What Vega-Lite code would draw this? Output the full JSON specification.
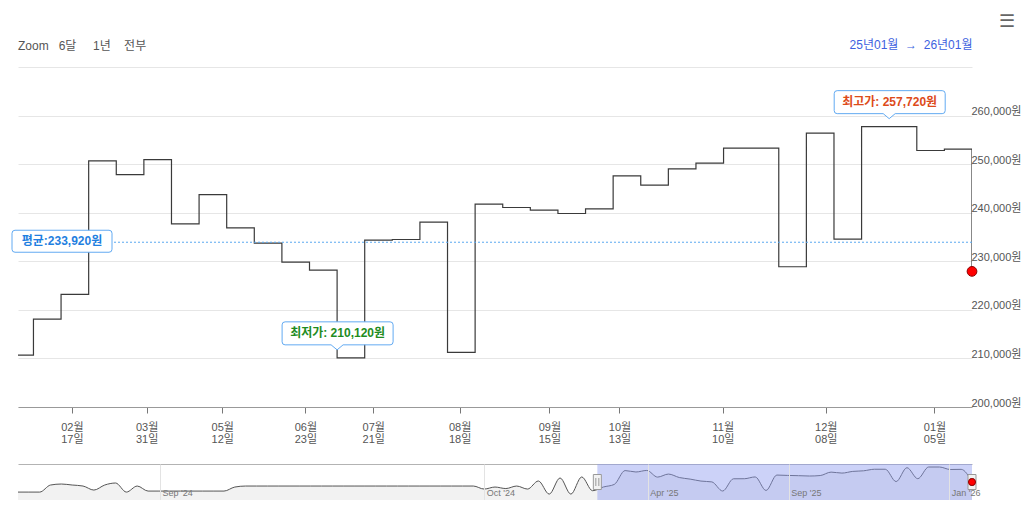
{
  "$schema": "https://vega.github.io/schema/vega-lite/v6.json",
  "background": "white",
  "padding": {"left": 10, "top": 13, "right": 0, "bottom": 0},
  "config": {
    "font": "Liberation Sans, 'Noto Sans CJK KR', sans-serif",
    "view": {"stroke": null}
  },
  "title": {"text": "☰", "anchor": "end", "fontSize": 18, "color": "#666666", "fontWeight": "normal", "offset": 7, "dx": -6},
  "bounds": "flush",
  "spacing": 57,
  "datasets": {
    "history": [
      {"n": 0, "price": 208000}, {"n": 1, "price": 208000}, {"n": 2, "price": 208000}, {"n": 3, "price": 222000},
      {"n": 4, "price": 224000}, {"n": 5, "price": 222000}, {"n": 6, "price": 220000}, {"n": 7, "price": 212000},
      {"n": 8, "price": 222000}, {"n": 9, "price": 226000}, {"n": 10, "price": 208000}, {"n": 11, "price": 220000},
      {"n": 12, "price": 210000}, {"n": 13, "price": 210000}, {"n": 14, "price": 210000}, {"n": 15, "price": 210000},
      {"n": 16, "price": 210000}, {"n": 17, "price": 210000}, {"n": 18, "price": 210000}, {"n": 19, "price": 210000},
      {"n": 20, "price": 218000}, {"n": 21, "price": 220000}, {"n": 22, "price": 220000}, {"n": 23, "price": 220000},
      {"n": 24, "price": 220000}, {"n": 25, "price": 220000}, {"n": 26, "price": 220000}, {"n": 27, "price": 220000},
      {"n": 28, "price": 220000}, {"n": 29, "price": 220000}, {"n": 30, "price": 220000}, {"n": 31, "price": 220000},
      {"n": 32, "price": 220000}, {"n": 33, "price": 220000}, {"n": 34, "price": 220000}, {"n": 35, "price": 220000},
      {"n": 36, "price": 220000}, {"n": 37, "price": 220000}, {"n": 38, "price": 220000}, {"n": 39, "price": 220000},
      {"n": 40, "price": 220000}, {"n": 41, "price": 220000}, {"n": 42, "price": 220000}, {"n": 43, "price": 214000},
      {"n": 44, "price": 218000}, {"n": 45, "price": 215000}, {"n": 46, "price": 220000}, {"n": 47, "price": 214000},
      {"n": 48, "price": 230000}, {"n": 49, "price": 204000}, {"n": 50, "price": 236000}, {"n": 51, "price": 204000},
      {"n": 52, "price": 238000},
      {"n": 53, "price": 210700}, {"n": 54, "price": 218100}, {"n": 55, "price": 223170}, {"n": 56, "price": 250680},
      {"n": 57, "price": 247860}, {"n": 58, "price": 250950}, {"n": 59, "price": 237720}, {"n": 60, "price": 243740},
      {"n": 61, "price": 236890}, {"n": 62, "price": 233740}, {"n": 63, "price": 229840}, {"n": 64, "price": 228190},
      {"n": 65, "price": 210120}, {"n": 66, "price": 234360}, {"n": 67, "price": 234490}, {"n": 68, "price": 238070},
      {"n": 69, "price": 211240}, {"n": 70, "price": 241770}, {"n": 71, "price": 241070}, {"n": 72, "price": 240530},
      {"n": 73, "price": 239840}, {"n": 74, "price": 240800}, {"n": 75, "price": 247590}, {"n": 76, "price": 245680},
      {"n": 77, "price": 249030}, {"n": 78, "price": 250200}, {"n": 79, "price": 253290}, {"n": 80, "price": 253290},
      {"n": 81, "price": 228870}, {"n": 82, "price": 256380}, {"n": 83, "price": 234570}, {"n": 84, "price": 257720},
      {"n": 85, "price": 257720}, {"n": 86, "price": 252810}, {"n": 87, "price": 253090}, {"n": 88, "price": 227920}
    ],
    "extremes": [
      {"kind": "최저가", "n": 65, "price": 210120, "label": "최저가: 210,120원"},
      {"kind": "최고가", "n": 85, "price": 257720, "label": "최고가: 257,720원"}
    ],
    "average": [{"label": "평균:233,920원", "price": 233920}],
    "selection": [{"from": 53.44, "to": 88}]
  },
  "vconcat": [
    {
      "width": 954,
      "height": 340,
      "title": {"text": "Zoom\u00a0\u00a0\u00a06달\u00a0\u00a0\u00a0\u00a0\u00a01년\u00a0\u00a0\u00a0\u00a0전부", "anchor": "start", "frame": "group", "fontSize": 12, "fontWeight": "normal", "color": "#555555", "offset": -15},
      "layer": [
        {
          "data": {"name": "history"},
          "mark": {"type": "line", "interpolate": "step-after", "color": "#3a3a3a", "strokeWidth": 1.2, "clip": true},
          "encoding": {
            "x": {
              "field": "n", "type": "quantitative",
              "scale": {"domain": [53.44, 88], "nice": false, "zero": false},
              "axis": {
                "orient": "bottom",
                "values": [55.39, 58.1, 60.84, 63.85, 66.31, 69.44, 72.69, 75.23, 78.97, 82.7, 86.64],
                "labelExpr": "split(['02월 17일','03월 31일','05월 12일','06월 23일','07월 21일','08월 18일','09월 15일','10월 13일','11월 10일','12월 08일','01월 05일'][indexof([55.39,58.1,60.84,63.85,66.31,69.44,72.69,75.23,78.97,82.7,86.64], datum.value)], ' ')",
                "grid": false, "domain": true, "domainColor": "#999999", "ticks": true, "tickColor": "#777777", "tickSize": 6,
                "labelColor": "#555555", "labelFontSize": 11, "labelPadding": 8, "labelBaseline": "top", "labelLineHeight": 12,
                "labelAlign": "center", "labelFlush": false, "labelOverlap": false, "labelBound": false, "title": null
              }
            },
            "y": {
              "field": "price", "type": "quantitative",
              "scale": {"domain": [200000, 270000], "nice": false, "zero": false},
              "axis": {
                "orient": "right",
                "values": [200000, 210000, 220000, 230000, 240000, 250000, 260000, 270000],
                "labelExpr": "datum.value >= 270000 ? '' : format(datum.value, ',') + '원'",
                "grid": true, "gridColor": "#e6e6e6", "domain": false, "ticks": false, "tickSize": 0,
                "labelAlign": "left", "labelBaseline": "alphabetic", "labelPadding": -1, "labelOffset": -1,
                "labelFontSize": 11, "labelColor": "#555555", "title": null, "labelBound": false, "labelFlush": false
              }
            }
          }
        },
        {
          "data": {"name": "average"},
          "mark": {"type": "rule", "color": "#5aa8f0", "strokeDash": [2, 2], "strokeWidth": 1},
          "encoding": {"y": {"field": "price", "type": "quantitative"}}
        },
        {
          "data": {"name": "average"},
          "mark": {"type": "point", "shape": "M-3,-12H91Q94,-12 94,-9V7Q94,10 91,10H-3Q-6,10 -6,7V-9Q-6,-12 -3,-12Z", "size": 4, "filled": true, "fill": "#ffffff", "stroke": "#62aaf2", "strokeWidth": 1, "opacity": 1},
          "encoding": {
            "x": {"datum": 53.44, "type": "quantitative", "axis": null},
            "y": {"field": "price", "type": "quantitative"}
          }
        },
        {
          "data": {"name": "average"},
          "mark": {"type": "text", "dx": 44, "dy": -1, "align": "center", "baseline": "middle", "fontWeight": "bold", "fontSize": 12, "color": "#1f7fe0"},
          "encoding": {
            "x": {"datum": 53.44, "type": "quantitative", "axis": null},
            "y": {"field": "price", "type": "quantitative"},
            "text": {"field": "label"}
          }
        },
        {
          "data": {"name": "extremes"},
          "mark": {"type": "point", "shape": "M-52,-36H53Q56,-36 56,-33V-16Q56,-13 53,-13H6L0,-8L-6,-13H-52Q-55,-13 -55,-16V-33Q-55,-36 -52,-36Z", "size": 4, "filled": true, "fill": "#ffffff", "stroke": "#62aaf2", "strokeWidth": 1, "opacity": 1},
          "encoding": {
            "x": {
              "field": "n", "type": "quantitative",
              "axis": {"orient": "top", "title": "25년01월\u00a0\u00a0→\u00a0\u00a026년01월\u00a0", "titleAnchor": "end", "titleColor": "#3d5fe0", "titleFontSize": 12, "titleFontWeight": "normal", "titlePadding": 16, "labels": false, "ticks": false, "domain": false, "grid": false}
            },
            "y": {"field": "price", "type": "quantitative"}
          }
        },
        {
          "data": {"name": "extremes"},
          "mark": {"type": "text", "dx": 0.5, "dy": -24.5, "align": "center", "baseline": "middle", "fontWeight": "bold", "fontSize": 12},
          "encoding": {
            "x": {"field": "n", "type": "quantitative", "axis": null},
            "y": {"field": "price", "type": "quantitative"},
            "text": {"field": "label"},
            "color": {"field": "kind", "type": "nominal", "scale": {"domain": ["최저가", "최고가"], "range": ["#1e8c1e", "#dd4b1a"]}, "legend": null}
          }
        },
        {
          "data": {"name": "history"},
          "transform": [{"filter": "datum.n == 88"}],
          "mark": {"type": "point", "filled": true, "fill": "#ff0000", "stroke": "#8b0000", "strokeWidth": 1, "size": 95, "opacity": 1},
          "encoding": {
            "x": {"field": "n", "type": "quantitative", "axis": null},
            "y": {"field": "price", "type": "quantitative"}
          }
        }
      ],
      "resolve": {"axis": {"x": "independent"}}
    },
    {
      "width": 954,
      "height": 36,
      "layer": [
        {
          "data": {"name": "history"},
          "mark": {"type": "area", "interpolate": "monotone", "fill": "#ececec", "line": {"color": "#555555", "strokeWidth": 1}, "clip": true},
          "encoding": {
            "x": {
              "field": "n", "type": "quantitative",
              "scale": {"domain": [0, 88], "nice": false, "zero": false},
              "axis": {
                "orient": "bottom",
                "values": [13.1, 43, 58.1, 71.1, 85.9],
                "labelExpr": "[\"Sep '24\",\"Oct '24\",\"Apr '25\",\"Sep '25\",\"Jan '26\"][indexof([13.1,43,58.1,71.1,85.9], datum.value)]",
                "grid": true, "gridColor": "#e3e3e3", "ticks": false, "tickSize": 0, "domain": false,
                "labelAlign": "left", "labelPadding": -5, "labelBaseline": "alphabetic", "labelFontSize": 9,
                "labelColor": "#777777", "labelOffset": 2, "title": null, "labelFlush": false, "labelOverlap": false, "labelBound": false, "zindex": 1
              }
            },
            "y": {"field": "price", "type": "quantitative", "scale": {"domain": [192300, 263700], "nice": false, "zero": false}, "axis": null}
          }
        },
        {
          "data": {"name": "selection"},
          "mark": {"type": "rect", "fill": "#8e9cf0", "opacity": 0.45},
          "encoding": {
            "x": {"field": "from", "type": "quantitative", "axis": {"orient": "top", "labels": false, "ticks": false, "grid": false, "domain": true, "domainColor": "#b3b3b3", "title": null}},
            "x2": {"field": "to"}
          }
        },
        {
          "data": {"name": "selection"},
          "mark": {"type": "point", "shape": "M-4,-7.5H4V7.5H-4Z M-1.5,-4V4 M1.5,-4V4", "size": 4, "filled": true, "fill": "#f2f2f2", "stroke": "#999999", "strokeWidth": 1, "opacity": 1},
          "encoding": {
            "x": {"field": "from", "type": "quantitative", "axis": null},
            "y": {"datum": 228000, "type": "quantitative"}
          }
        },
        {
          "data": {"name": "selection"},
          "mark": {"type": "point", "shape": "M-4,-7.5H4V7.5H-4Z M-1.5,-4V4 M1.5,-4V4", "size": 4, "filled": true, "fill": "#f2f2f2", "stroke": "#999999", "strokeWidth": 1, "opacity": 1},
          "encoding": {
            "x": {"field": "to", "type": "quantitative", "axis": null},
            "y": {"datum": 228000, "type": "quantitative"}
          }
        },
        {
          "data": {"name": "history"},
          "transform": [{"filter": "datum.n == 88"}],
          "mark": {"type": "point", "filled": true, "fill": "#ff0000", "stroke": "#8b0000", "strokeWidth": 1, "size": 50, "opacity": 1},
          "encoding": {
            "x": {"field": "n", "type": "quantitative", "axis": null},
            "y": {"field": "price", "type": "quantitative"}
          }
        }
      ],
      "resolve": {"axis": {"x": "independent"}}
    }
  ]
}
